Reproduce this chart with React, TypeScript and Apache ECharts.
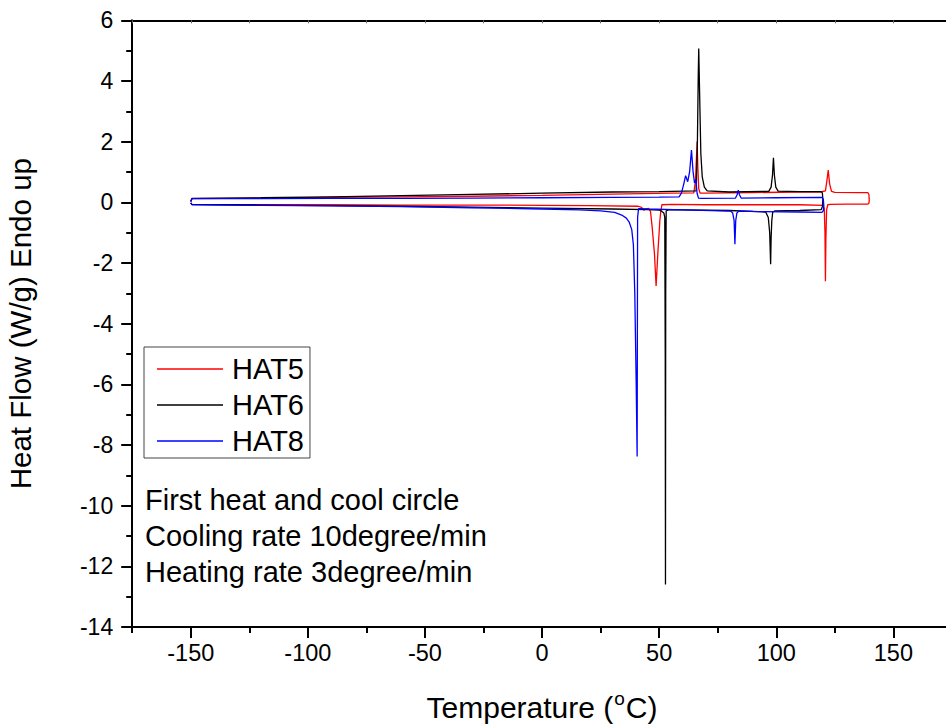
import React, { useEffect, useRef } from 'react';
import * as echarts from 'echarts';

const FONT = "'Liberation Sans', Arial, sans-serif";

const seriesNames = ['HAT5', 'HAT6', 'HAT8'];
const seriesColors = ['#ff0000', '#000000', '#0000ff'];
const xMajorTicks = [-150, -100, -50, 0, 50, 100, 150];
const annotationLines = [
  'First heat and cool circle',
  'Cooling rate 10degree/min',
  'Heating rate 3degree/min',
];

// HAT5: heating (-150 -> 140) then cooling (140 -> -150)
const hat5Temp = [
  -150, -149.5, -120, -90, -60, -30, 0, 30, 55, 64.8, 65.5, 66.0, 66.2, 66.5, 66.9, 67.5, 69, 90, 110, 119,
  121.0, 121.6, 122.2, 122.8, 123.6, 125, 135, 139.1, 139.6, 139.7, 139.5, 139.0,
  130, 123, 122, 121.5, 121.2, 121.0, 120.8, 120.5, 120, 110, 90, 70, 55, 51.2, 50.7, 50.3, 49.5, 48.7, 48.0,
  47.0, 46.3, 45.5, 44.5, 43.4, 42.5, 41, 20, 0, -30, -60, -90, -120, -149.5, -150,
];
const hat5Flow = [
  0.03, 0.12, 0.14, 0.16, 0.18, 0.2, 0.23, 0.27, 0.3, 0.31, 0.7, 1.6, 2.0, 1.2, 0.45, 0.3, 0.3, 0.32, 0.34, 0.34,
  0.38, 0.7, 1.06, 0.6, 0.36, 0.33, 0.32, 0.32, 0.25, 0.05, -0.04, -0.06,
  -0.06, -0.07, -0.08, -0.25, -1.2, -2.6, -1.0, -0.2, -0.1, -0.08, -0.08, -0.08, -0.07, -0.08, -0.3, -0.6, -1.6, -2.76, -1.7,
  -0.8, -0.3, -0.2, -0.22, -0.26, -0.17, -0.13, -0.11, -0.1, -0.09, -0.09, -0.08, -0.08, -0.07, -0.02,
];

// HAT6
const hat6Temp = [
  -150, -149.5, -120, -90, -60, -30, 0, 30, 50, 65.8, 66.3, 66.7, 66.9, 67.3, 67.8, 68.4, 69.3, 70.5, 80,
  96.8, 97.8, 98.4, 98.8, 99.2, 99.8, 100.8, 110, 119.2, 119.7, 119.9, 119.7, 119.2,
  110, 99.5, 98.5, 98.1, 97.8, 97.6, 97.2, 96.6, 95.5, 80, 60, 54, 53.0, 52.8, 52.7, 52.6, 52.4, 52.0, 51.2, 50.2,
  45, 30, 0, -30, -60, -90, -120, -149.5, -150,
];
const hat6Flow = [
  0.03, 0.13, 0.15, 0.18, 0.22, 0.26, 0.3, 0.34, 0.35, 0.38, 1.8, 4.2, 5.07, 3.5, 1.6, 0.84, 0.5, 0.38, 0.34,
  0.36, 0.5, 0.9, 1.47, 0.9, 0.5, 0.37, 0.35, 0.35, 0.3, 0.1, -0.15, -0.24,
  -0.27, -0.28, -0.32, -0.6, -1.2, -2.04, -1.0, -0.5, -0.32, -0.27, -0.25, -0.25, -0.28, -3.0, -12.6, -5.0, -0.5, -0.35, -0.3, -0.26,
  -0.24, -0.22, -0.19, -0.16, -0.13, -0.11, -0.09, -0.07, -0.02,
];

// HAT8
const hat8Temp = [
  -150, -149.5, -120, -90, -60, -30, 0, 30, 50, 58.5, 59.5, 60.5, 61.3, 62.2, 63.0, 63.8, 64.5, 65.1, 65.7, 66.2, 66.8, 68,
  82.6, 83.3, 83.8, 84.3, 85, 100, 119.6, 120.1, 120.3, 120.1, 119.5,
  110, 90, 84, 83.2, 82.7, 82.35, 82.0, 81.4, 80.5, 60, 45, 41.2, 40.8, 40.6, 40.2, 39.6, 39.0, 38.3, 37.2, 36, 34, 31,
  25, 16, 0, -30, -60, -90, -120, -149.5, -150,
];
const hat8Flow = [
  0.03, 0.12, 0.12, 0.13, 0.13, 0.14, 0.15, 0.16, 0.17, 0.18, 0.3, 0.6, 0.88, 0.68, 1.0, 1.72, 1.0, 0.64, 0.75, 0.3, 0.14, 0.13,
  0.14, 0.25, 0.4, 0.25, 0.14, 0.15, 0.16, 0.1, -0.1, -0.28, -0.33,
  -0.32, -0.3, -0.29, -0.35, -0.6, -1.38, -0.6, -0.35, -0.29, -0.25, -0.22, -0.21, -0.5, -8.38, -6.0, -3.0, -1.4, -0.9, -0.65, -0.52, -0.42, -0.33,
  -0.28, -0.25, -0.22, -0.18, -0.14, -0.12, -0.1, -0.08, -0.02,
];

const temps = [hat5Temp, hat6Temp, hat8Temp];
const flows = [hat5Flow, hat6Flow, hat8Flow];

export default function App() {
  const ref = useRef<HTMLDivElement>(null);
  useEffect(() => {
    document.body.style.margin = '0';
    if (!ref.current) return;
    const chart = echarts.init(ref.current, null, { renderer: 'svg' });
    const tickStyle = { color: '#000', width: 2 };
    chart.setOption({
      animation: false,
      backgroundColor: '#ffffff',
      textStyle: { fontFamily: FONT },
      grid: { left: 132.2, right: -5.9, top: 20.3, bottom: 97, containLabel: false, outerBoundsMode: 'none' },
      legend: {
        data: seriesNames,
        orient: 'vertical',
        left: 144,
        top: 347,
        padding: [7, 6, 2, 13],
        icon: 'rect',
        itemWidth: 66,
        itemHeight: 1.5,
        itemGap: 6,
        borderColor: '#444',
        borderWidth: 1,
        textStyle: { fontSize: 29, fontFamily: FONT, color: '#000', lineHeight: 30, padding: [0, 0, 0, 4] },
      },
      xAxis: [
        {
          type: 'value', min: -175, max: 175, interval: 25, position: 'bottom',
          axisLine: { show: true, onZero: false, lineStyle: tickStyle },
          axisTick: { show: true, length: 6, lineStyle: tickStyle },
          axisLabel: {
            formatter: (v: number) => (v % 50 === 0 ? String(v) : ''),
            fontSize: 23.5, color: '#000', margin: 14, fontFamily: FONT,
          },
          splitLine: { show: false },
          name: '{t|Temperature (}{s|o}{t|C)}',
          nameLocation: 'middle',
          nameGap: 62,
          nameTextStyle: {
            rich: {
              t: { fontSize: 30, fontFamily: FONT, color: '#000', lineHeight: 33, verticalAlign: 'bottom' },
              s: { fontSize: 19, fontFamily: FONT, color: '#000', verticalAlign: 'top', lineHeight: 19, padding: [0, 1, 20, 1] },
            },
          },
        },
        {
          type: 'value', min: -175, max: 175, position: 'bottom',
          axisLine: { show: false, onZero: false },
          axisTick: { show: true, customValues: xMajorTicks, length: 11, lineStyle: tickStyle },
          axisLabel: { show: false },
          splitLine: { show: false },
        },
        {
          type: 'value', min: -175, max: 175, interval: 25, position: 'top',
          axisLine: { show: true, onZero: false, lineStyle: tickStyle },
          axisTick: { show: true, inside: true, length: 3, lineStyle: { color: '#666', width: 1 } },
          axisLabel: { show: false },
          splitLine: { show: false },
        },
      ],
      yAxis: {
        type: 'value', min: -14, max: 6, interval: 2,
        axisLine: { show: true, onZero: false, lineStyle: tickStyle },
        axisTick: { show: true, length: 11, lineStyle: tickStyle },
        minorTick: { show: true, splitNumber: 2, length: 6, lineStyle: tickStyle },
        axisLabel: { fontSize: 23, color: '#000', margin: 19, fontFamily: FONT },
        splitLine: { show: false },
        minorSplitLine: { show: false },
        name: 'Heat Flow (W/g) Endo up',
        nameLocation: 'middle',
        nameRotate: 90,
        nameGap: 97,
        nameTextStyle: { fontSize: 29.5, fontFamily: FONT, color: '#000' },
      },
      graphic: annotationLines.map((line, i) => ({
        type: 'text',
        x: 145,
        y: 500 + i * 36,
        style: { text: line, fontSize: 29, fontFamily: FONT, fill: '#000', verticalAlign: 'middle' },
      })),
      series: seriesNames.map((name, k) => ({
        name,
        type: 'line',
        xAxisIndex: 0,
        symbol: 'none',
        showSymbol: false,
        lineStyle: { color: seriesColors[k], width: 1.3 },
        itemStyle: { color: seriesColors[k] },
        data: temps[k].map((t, i) => [t, flows[k][i]]),
      })),
    });
    return () => chart.dispose();
  }, []);
  return <div ref={ref} style={{ width: 946, height: 724 }} />;
}
